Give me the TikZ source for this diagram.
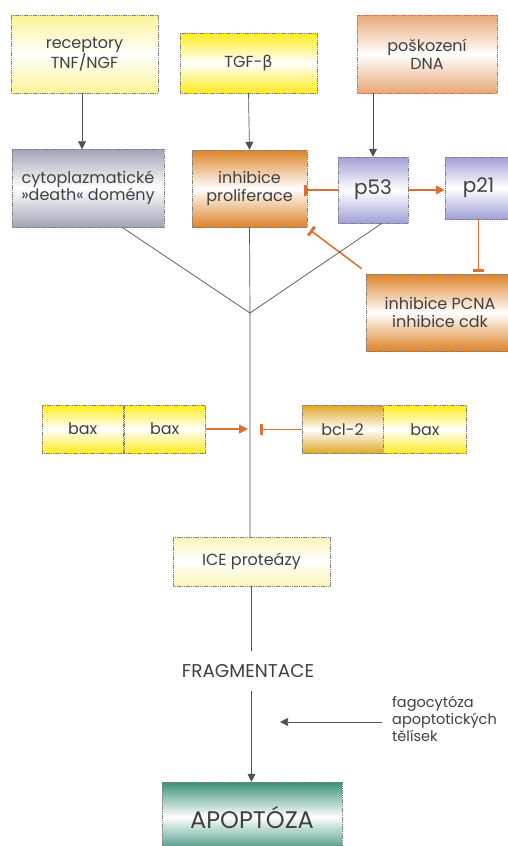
\documentclass[tikz,border=0pt]{standalone}
\usepackage{fontspec}
\setmainfont{Poppins}
\newfontfamily\greekfont{DejaVu Sans}
\usetikzlibrary{arrows.meta,calc}

\definecolor{pathgray}{RGB}{80,82,88}
\definecolor{inhorange}{RGB}{222,112,52}
\definecolor{boxyellow}{RGB}{255,236,30}
\definecolor{paleyellow}{RGB}{250,244,150}
\definecolor{iceyellow}{RGB}{250,244,185}
\definecolor{dnasalmon}{RGB}{232,168,118}
\definecolor{dnaborder}{RGB}{225,105,60}
\definecolor{prolorange}{RGB}{222,132,42}
\definecolor{cytogray}{RGB}{160,165,182}
\definecolor{plavender}{RGB}{160,160,214}
\definecolor{bclgold}{RGB}{222,168,36}
\definecolor{apoteal}{RGB}{58,145,122}

\tikzset{
  stage/.style={draw=black!50, line width=0.5pt, dash pattern=on 1.2pt off 0.6pt,
    align=center, inner sep=0pt, text=black!75, font=\fontsize{16}{17.5}\selectfont},
  fadebox/.style={top color=#1, bottom color=#1, middle color=white},
  pathline/.style={draw=pathgray, line width=0.7pt},
  leads/.style={pathline, -{Triangle[length=8pt,width=8pt]}},
  blocks/.style={draw=inhorange, line width=1.6pt, -{Bar[width=11pt,line width=3pt]}},
  promotes/.style={draw=inhorange, line width=1.6pt, -{Triangle[length=9pt,width=9pt]}},
}

\begin{document}
\begin{tikzpicture}[x=1pt, y=-1pt]
		%%%%% START %%%%%
		\useasboundingbox[fill=white] (0, 0) rectangle (508, 846);
		
		% upper signals
		\node[stage, fadebox=paleyellow, minimum width=147pt, minimum height=78pt] (rec) at (84.5, 54) {receptory\\TNF/NGF};
		\node[stage, fadebox=boxyellow, minimum width=137pt, minimum height=60pt] (tgf) at (248.5, 63) {TGF-{\greekfont β}};
		\node[stage, fadebox=dnasalmon, draw=dnaborder, minimum width=140pt, minimum height=78pt] (dna) at (427, 54) {poškození\\DNA};
		
		\node[stage, fadebox=cytogray, minimum width=152pt, minimum height=78pt] (cyto) at (88, 188) {cytoplazmatické\\»death« domény};
		\node[stage, fadebox=prolorange, minimum width=115pt, minimum height=77pt] (prolif) at (249.5, 188.5) {inhibice\\proliferace};
		\node[stage, fadebox=plavender, minimum width=70pt, minimum height=66pt, font=\fontsize{20}{22}\selectfont] (p53) at (373, 190) {p53};
		\node[stage, fadebox=plavender, minimum width=67pt, minimum height=62pt, font=\fontsize{20}{22}\selectfont] (p21) at (478.5, 188) {p21};
		\node[stage, fadebox=prolorange, minimum width=148pt, minimum height=77pt] (pcna) at (440, 312.5) {inhibice PCNA\\inhibice cdk};
		
		\draw[leads] (rec.south -| cyto.north) ++(-6, 0) -- ++(0, 56);
		\draw[leads] (tgf.south) -- (prolif.north);
		\draw[leads] (p53.north |- dna.south) -- (p53.north);
		
		\draw[promotes] (p53.east) -- (p53.east -| p21.west);
		\draw[blocks, shorten >=-3pt] (p53.west) -- (p53.west -| prolif.east);
		\draw[blocks, shorten >=2pt] (p21.south) -- (p21.south |- pcna.north);
		\draw[blocks] ($(pcna.north west)+(-4, -5)$) -- ($(prolif.south east)+(3, 3)$);
		
		% convergence
		\coordinate (join) at (250, 313);
		\draw[pathline] ($(cyto.south)+(34, 0)$) -- (join);
		\draw[pathline] ($(p53.south)+(9, 0)$) -- (join);
		
		% bax / bcl-2
		\node[stage, fadebox=boxyellow, minimum width=81.5pt, minimum height=48pt] (baxa) at (82.75, 429) {bax};
		\node[stage, fadebox=boxyellow, minimum width=81.5pt, minimum height=48pt, anchor=west] (baxb) at (baxa.east) {bax};
		\node[stage, fadebox=bclgold, minimum width=81pt, minimum height=48pt] (bcl) at (342.5, 429.5) {bcl-2};
		\node[stage, fadebox=boxyellow, minimum width=83pt, minimum height=48pt, anchor=west] (baxc) at (bcl.east) {bax};
		
		\node[stage, fadebox=iceyellow, minimum width=157pt, minimum height=49pt] (ice) at (251.5, 561.5) {ICE proteázy};
		\draw[pathline] (prolif.south) -- (join) -- (join |- ice.north);
		
		\draw[promotes, line width=1.4pt, shorten >=2pt] (baxb.east) -- (baxb.east -| join);
		\draw[blocks, line width=1.4pt, shorten >=10pt] (bcl.west) -- (bcl.west -| join);
		
		% end stage
		\node[text=black!75, font=\fontsize{18.5}{20}\selectfont, minimum height=40pt] (frag) at (248, 671) {FRAGMENTACE};
		\node[stage, fadebox=apoteal, minimum width=180pt, minimum height=70pt, font=\fontsize{24}{26}\selectfont] (apo) at (252, 817) {APOPTÓZA};
		\node[text=black!75, font=\fontsize{14.5}{17}\selectfont, align=left, anchor=west, inner sep=0pt] (fago) at (392, 719) {fagocytóza\\apoptotických\\tělísek};
		\coordinate (eaten) at (280, 722);
		
		\draw[pathline] (ice.south) -- (ice.south |- frag.north);
		\draw[leads] (ice.south |- frag.south) -- (ice.south |- apo.north);
		\draw[leads, shorten <=10pt] (fago.west |- eaten) -- (eaten);
		
		%%%%% END %%%%%
	\end{tikzpicture}
\end{document}
